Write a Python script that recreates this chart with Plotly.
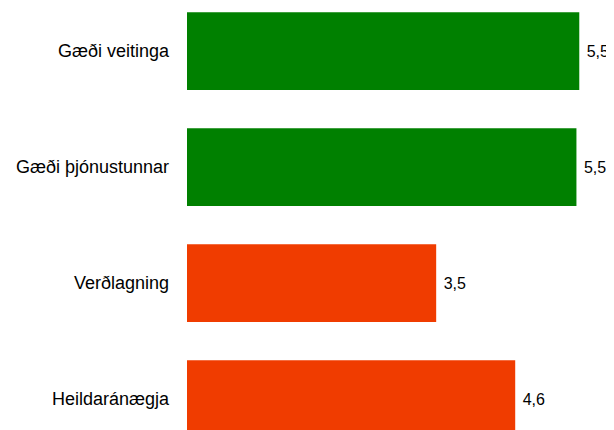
import plotly.graph_objects as go

categories = ["Gæði veitinga", "Gæði þjónustunnar", "Verðlagning", "Heildaránægja"]
scores = [5.51, 5.47, 3.5, 4.61]
bar_colors = ["#008000", "#008000", "#F03C00", "#F03C00"]

fig = go.Figure()
fig.add_trace(
    go.Bar(
        y=categories,
        x=scores,
        orientation="h",
        marker=dict(color=bar_colors, line=dict(width=0)),
        texttemplate=" %{x:.1f}",
        textposition="outside",
        textfont=dict(size=16, color="#000000"),
        cliponaxis=False,
    )
)

fig.update_layout(
    width=614,
    height=430,
    margin=dict(l=179, r=0, t=0, b=0),
    paper_bgcolor="white",
    plot_bgcolor="white",
    separators=", ",
    bargap=0.33,
    showlegend=False,
    font=dict(family="Liberation Sans, Arial, sans-serif", size=18, color="#000000"),
)
fig.update_xaxes(range=[0, 6.11], visible=False, showgrid=False, zeroline=False)
fig.update_yaxes(
    categoryorder="array",
    categoryarray=categories,
    range=[3.336, -0.371],
    showgrid=False,
    zeroline=False,
    showline=False,
    ticks="",
    ticklabelstandoff=17,
    automargin=False,
)

fig.write_html("out.html")
